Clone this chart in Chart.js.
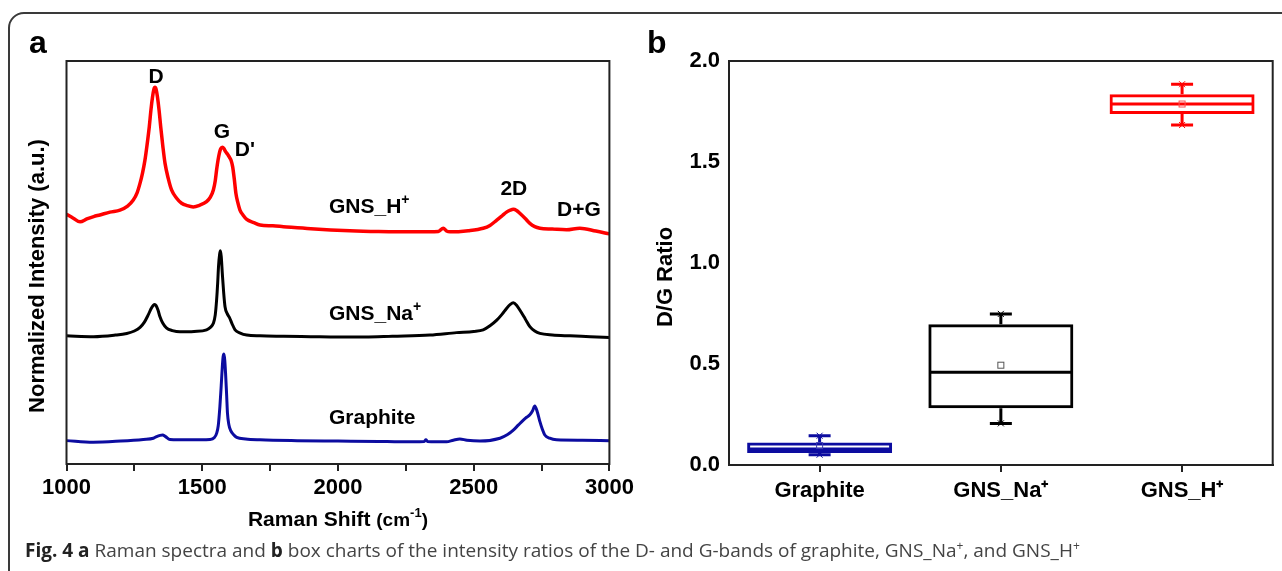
<!DOCTYPE html>
<html><head><meta charset="utf-8">
<script src="https://cdn.jsdelivr.net/npm/chart.js@4.4.1/dist/chart.umd.min.js"></script>
<style>
html,body{margin:0;padding:0;background:#fff;width:1282px;height:571px;overflow:hidden;}
#frame{position:absolute;left:8px;top:12px;width:1330px;height:640px;border:2px solid #3a3a3a;border-radius:16px;box-sizing:border-box;}
#w1{position:absolute;left:0;top:0;width:640px;height:571px;}
#w2{position:absolute;left:640px;top:0;width:642px;height:571px;}
#cap{position:absolute;left:25px;top:537px;font-family:'Open Sans';font-size:19px;color:#444;white-space:nowrap;}
#cap b{font-weight:700;color:#222;}
#cap sup{font-size:12px;line-height:0;}
</style></head>
<body>
<div id="frame"></div>
<div id="w1"><canvas id="c1" width="640" height="571"></canvas></div>
<div id="w2"><canvas id="c2" width="642" height="571"></canvas></div>
<div id="cap"><b>Fig. 4 a</b> Raman spectra and <b>b</b> box charts of the intensity ratios of the D- and G-bands of graphite, GNS_Na<sup>+</sup>, and GNS_H<sup>+</sup></div>
<script>
// ---------- Panel a: Raman spectra (normalized intensity, a.u.) ----------
const hShift = [1000,1025,1050,1075,1100,1123,1160,1197,1225,1246,1260,1271,1280,1289,1297,1305,1311,1317,1322,1326,1330,1335,1341,1347,1355,1363,1375,1387,1405,1424,1445,1467,1490,1516,1530,1541,1548,1553,1558,1563,1568,1574,1580,1586,1594,1602,1607,1612,1618,1624,1631,1639,1650,1664,1690,1713,1760,1799,1900,2044,2150,2290,2370,2388,2400,2413,2480,2535,2560,2585,2605,2621,2635,2646,2658,2670,2690,2707,2725,2744,2790,2842,2891,2950,3000];
const hIntensity = [62.0,61.0,60.1,60.8,61.4,61.8,62.5,63.0,64.0,65.5,67.3,69.7,72.2,75.4,79.3,83.7,87.8,91.1,93.0,93.5,93.0,91.1,87.8,83.7,78.8,74.6,70.8,68.0,66.0,64.7,64.1,63.8,64.2,65.1,66.2,68.0,70.3,73.0,75.3,77.1,78.2,78.6,78.3,77.5,76.8,75.9,75.2,73.8,70.8,67.2,64.9,63.0,61.8,60.7,59.9,59.3,59.1,58.9,58.4,57.9,57.7,57.6,57.7,58.5,57.8,57.6,57.9,58.5,59.2,60.5,61.6,62.5,63.0,63.2,62.9,62.2,60.9,59.7,58.9,58.5,58.3,58.1,58.5,57.8,57.1];

const naShift = [1000,1100,1180,1222,1250,1271,1287,1301,1313,1320,1325,1330,1337,1344,1355,1369,1390,1418,1470,1516,1530,1541,1548,1553,1557,1560,1564,1567,1570,1574,1579,1584,1592,1600,1610,1621,1640,1664,1713,1800,1900,2000,2100,2200,2339,2437,2500,2535,2560,2585,2605,2621,2635,2646,2658,2670,2690,2707,2725,2744,2790,2855,2930,3000];
const naIntensity = [31.8,31.6,32.0,32.4,33.0,33.9,35.2,37.0,38.7,39.4,39.6,39.3,38.2,36.6,34.9,33.7,33.1,32.8,32.9,33.3,33.9,34.9,37.0,40.7,45.0,49.0,52.0,52.9,51.5,47.3,42.5,39.0,37.3,36.4,34.8,33.3,32.5,32.0,31.8,31.7,31.6,31.5,31.5,31.7,32.0,32.6,32.9,33.3,34.3,35.7,37.2,38.6,39.6,40.0,39.4,38.2,36.0,34.1,33.0,32.4,32.0,31.8,31.6,31.4];

const gShift = [1000,1098,1200,1283,1320,1332,1345,1354,1365,1381,1450,1529,1545,1553,1559,1565,1570,1574,1577,1580,1583,1586,1590,1593,1598,1605,1615,1627,1660,1713,1850,2000,2150,2228,2318,2324,2330,2400,2425,2449,2475,2523,2597,2625,2646,2665,2683,2695,2707,2717,2725,2735,2744,2753,2762,2780,2805,2900,3000];
const gIntensity = [5.8,5.4,5.7,6.1,6.4,6.8,7.1,7.2,6.8,6.1,6.0,6.1,6.6,7.6,9.5,14.2,19.5,24.1,26.6,27.3,25.8,22.5,17.0,12.6,9.8,8.3,7.3,6.6,6.2,6.0,5.8,5.7,5.6,5.5,5.6,6.0,5.6,5.5,5.9,6.2,5.9,5.7,6.4,7.3,8.4,9.7,10.9,11.6,12.2,13.2,14.4,12.8,10.5,8.6,7.2,6.4,6.0,5.9,5.8];

const xTickValues = [1000,1500,2000,2500,3000];

// ---------- Panel b: D/G ratio box charts ----------
const categories = ['Graphite','GNS_Na\u207A','GNS_H\u207A'];
const whiskerMin = [0.051,0.206,1.683];
const q1 = [0.059,0.281,1.738];
const median = [0.079,0.459,1.787];
const q3 = [0.112,0.697,1.835];
const whiskerMax = [0.145,0.748,1.885];
const mean = [0.096,0.494,1.787];
const yTickValues = [0.0,0.5,1.0,1.5,2.0];

const FONT = 'Liberation Sans';
const boxColors = ['#0c0ca0','#000000','#ff0000'];
const meanColors = ['#3a3ab0','#555555','#ff5050'];

function zip(a,b){return a.map((v,i)=>({x:v,y:b[i]}));}

function drawRich(ctx, parts, x, y, align){
  let total = 0;
  parts.forEach(p=>{ctx.font='bold '+p.size+'px "'+FONT+'"'; p.w=ctx.measureText(p.t).width; total+=p.w;});
  let cx = align==='center' ? x-total/2 : (align==='right'? x-total : x);
  ctx.textAlign='left';
  parts.forEach(p=>{ctx.font='bold '+p.size+'px "'+FONT+'"'; ctx.fillText(p.t,cx,y-(p.raise||0)); cx+=p.w;});
}

const framePlugin = {
  id:'frame',
  afterDraw(chart){
    const {ctx, chartArea:a} = chart;
    ctx.save(); ctx.strokeStyle='#222'; ctx.lineWidth=2;
    ctx.strokeRect(a.left, a.top, a.right-a.left, a.bottom-a.top);
    ctx.restore();
  }
};

const annotations1 = [
  {parts:[{t:'D',size:21}], x:1330, y:94.6, align:'center'},
  {parts:[{t:'G',size:21}], x:1573, y:81.0, align:'center'},
  {parts:[{t:"D'",size:21}], x:1657, y:76.4, align:'center'},
  {parts:[{t:'GNS_H',size:21},{t:'+',size:14,raise:9}], x:1967, y:62.3, align:'left'},
  {parts:[{t:'2D',size:21}], x:2648, y:66.7, align:'center'},
  {parts:[{t:'D+G',size:21}], x:2888, y:61.5, align:'center'},
  {parts:[{t:'GNS_Na',size:21},{t:'+',size:14,raise:9}], x:1967, y:35.7, align:'left'},
  {parts:[{t:'Graphite',size:21}], x:1967, y:9.9, align:'left'}
];

const textPlugin1 = {
  id:'text1',
  afterDraw(chart){
    const ctx = chart.ctx, xs = chart.scales.x, ys = chart.scales.y;
    ctx.save(); ctx.fillStyle='#000'; ctx.textBaseline='alphabetic';
    annotations1.forEach(a=>drawRich(ctx, a.parts, xs.getPixelForValue(a.x), ys.getPixelForValue(a.y), a.align));
    drawRich(ctx,[{t:'a',size:32}],29,53,'left');
    const a = chart.chartArea;
    drawRich(ctx,[{t:'Raman Shift ',size:21},{t:'(cm',size:19},{t:'-1',size:13,raise:9},{t:')',size:19}], (a.left+a.right)/2, 526, 'center');
    ctx.translate(38, 276); ctx.rotate(-Math.PI/2);
    ctx.textBaseline='middle';
    drawRich(ctx,[{t:'Normalized Intensity (a.u.)',size:22}],0,0,'center');
    ctx.restore();
  }
};

new Chart(document.getElementById('c1'), {
  type:'line',
  data:{datasets:[
    {label:'GNS_H+', data:zip(hShift,hIntensity), borderColor:'#ff0000', borderWidth:3.5, pointRadius:0, cubicInterpolationMode:'monotone'},
    {label:'GNS_Na+', data:zip(naShift,naIntensity), borderColor:'#000000', borderWidth:3, pointRadius:0, cubicInterpolationMode:'monotone'},
    {label:'Graphite', data:zip(gShift,gIntensity), borderColor:'#0c0ca0', borderWidth:3, pointRadius:0, cubicInterpolationMode:'monotone'}
  ]},
  options:{
    responsive:false, animation:false, devicePixelRatio:1,
    layout:{padding:{left:66.5, top:61, right:30.6, bottom:0}},
    plugins:{legend:{display:false}, tooltip:{enabled:false}},
    scales:{
      x:{type:'linear', min:1000, max:3000,
        ticks:{stepSize:250, autoSkip:false, maxRotation:0, color:'#000', padding:4,
          font:{family:FONT, weight:'bold', size:22},
          callback:v=> xTickValues.includes(v) ? String(v) : ''},
        grid:{drawOnChartArea:false, drawTicks:true, tickLength:7, color:'#222', lineWidth:2},
        border:{display:true, color:'#222', width:2},
        afterFit(s){s.height=107;}
      },
      y:{display:false, min:0, max:100}
    }
  },
  plugins:[framePlugin, textPlugin1]
});

// ---------- Chart b ----------
const boxPlugin = {
  id:'box',
  afterDatasetsDraw(chart){
    const ctx = chart.ctx, ys = chart.scales.y;
    const meta = chart.getDatasetMeta(0);
    ctx.save();
    meta.data.forEach((bar,i)=>{
      const x = bar.x, w = bar.width, c = boxColors[i];
      const py = v=>ys.getPixelForValue(v);
      ctx.strokeStyle=c; ctx.lineWidth=3; ctx.lineCap='butt';
      ctx.beginPath();
      ctx.moveTo(x-w/2+1, py(median[i])); ctx.lineTo(x+w/2-1, py(median[i]));
      ctx.moveTo(x, py(q3[i])); ctx.lineTo(x, py(whiskerMax[i]));
      ctx.moveTo(x, py(q1[i])); ctx.lineTo(x, py(whiskerMin[i]));
      ctx.moveTo(x-11, py(whiskerMax[i])); ctx.lineTo(x+11, py(whiskerMax[i]));
      ctx.moveTo(x-11, py(whiskerMin[i])); ctx.lineTo(x+11, py(whiskerMin[i]));
      ctx.stroke();
      ctx.lineWidth=1;
      [whiskerMax[i], whiskerMin[i]].forEach(v=>{
        const yy=py(v);
        ctx.beginPath();
        ctx.moveTo(x-3,yy-3); ctx.lineTo(x+3,yy+3);
        ctx.moveTo(x+3,yy-3); ctx.lineTo(x-3,yy+3);
        ctx.stroke();
      });
      ctx.strokeStyle=meanColors[i]; ctx.lineWidth=1;
      ctx.strokeRect(x-3, py(mean[i])-3, 6, 6);
    });
    ctx.restore();
  }
};

const textPlugin2 = {
  id:'text2',
  afterDraw(chart){
    const ctx = chart.ctx;
    ctx.save(); ctx.fillStyle='#000'; ctx.textBaseline='alphabetic';
    drawRich(ctx,[{t:'b',size:32}],7,53,'left');
    ctx.translate(26, 277); ctx.rotate(-Math.PI/2);
    ctx.textBaseline='middle';
    drawRich(ctx,[{t:'D/G Ratio',size:22}],0,0,'center');
    ctx.restore();
  }
};

new Chart(document.getElementById('c2'), {
  type:'bar',
  data:{labels:categories, datasets:[{
    data:q1.map((v,i)=>[v,q3[i]]),
    backgroundColor:'rgba(0,0,0,0)',
    borderColor:boxColors, borderWidth:3, borderSkipped:false,
    barPercentage:0.8, categoryPercentage:1.0
  }]},
  options:{
    responsive:false, animation:false, devicePixelRatio:1,
    layout:{padding:{left:49, top:61, right:9.3, bottom:0}},
    plugins:{legend:{display:false}, tooltip:{enabled:false}},
    scales:{
      x:{
        ticks:{color:'#000', padding:6, font:{family:FONT, weight:'bold', size:22}},
        grid:{drawOnChartArea:false, drawTicks:true, tickLength:7, color:'#222', lineWidth:2, offset:false},
        border:{display:true, color:'#222', width:2},
        afterFit(s){s.height=106;}
      },
      y:{min:0, max:2,
        afterBuildTicks(s){s.ticks = yTickValues.map(v=>({value:v}));},
        ticks:{color:'#000', padding:9, font:{family:FONT, weight:'bold', size:22}, callback:v=>Number(v).toFixed(1)},
        grid:{display:false, drawTicks:false},
        border:{display:true, color:'#222', width:2},
        afterFit(s){s.width=40;}
      }
    }
  },
  plugins:[framePlugin, boxPlugin, textPlugin2]
});
</script>
</body></html>
